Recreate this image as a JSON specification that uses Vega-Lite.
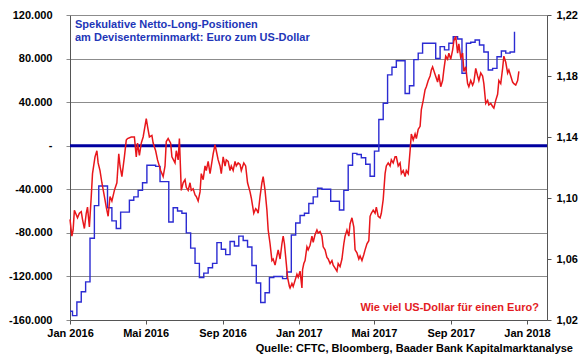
{
  "$schema": "https://vega.github.io/schema/vega-lite/v6.json",
  "width": 477,
  "height": 305,
  "autosize": {"type": "none"},
  "padding": {"left": 70, "top": 15, "right": 33, "bottom": 39},
  "background": "white",
  "config": {
    "view": {"stroke": null},
    "font": "Liberation Sans",
    "axis": {"labelFont": "Liberation Sans", "labelFontWeight": "bold", "labelFontSize": 11, "labelColor": "#000000", "title": null}
  },
  "title": {
    "text": "Quelle: CFTC, Bloomberg, Baader Bank Kapitalmarktanalyse",
    "orient": "bottom",
    "anchor": "end",
    "frame": "group",
    "dx": 26,
    "offset": 5,
    "font": "Liberation Sans",
    "fontSize": 11,
    "fontWeight": "bold",
    "color": "#000000"
  },
  "datasets": {
    "cftc": [
      {"date": "2016-01-01", "pos": -152000},
      {"date": "2016-01-05", "pos": -156000},
      {"date": "2016-01-12", "pos": -143500},
      {"date": "2016-01-19", "pos": -134000},
      {"date": "2016-01-26", "pos": -125000},
      {"date": "2016-02-02", "pos": -85000},
      {"date": "2016-02-09", "pos": -55000},
      {"date": "2016-02-16", "pos": -37000},
      {"date": "2016-02-23", "pos": -37000},
      {"date": "2016-03-01", "pos": -57000},
      {"date": "2016-03-08", "pos": -69000},
      {"date": "2016-03-15", "pos": -76000},
      {"date": "2016-03-22", "pos": -61000},
      {"date": "2016-03-29", "pos": -61000},
      {"date": "2016-04-05", "pos": -50000},
      {"date": "2016-04-12", "pos": -47000},
      {"date": "2016-04-19", "pos": -41000},
      {"date": "2016-04-26", "pos": -34000},
      {"date": "2016-05-03", "pos": -18000},
      {"date": "2016-05-10", "pos": -18000},
      {"date": "2016-05-17", "pos": -19000},
      {"date": "2016-05-24", "pos": -33000},
      {"date": "2016-05-31", "pos": -33000},
      {"date": "2016-06-07", "pos": -70000},
      {"date": "2016-06-14", "pos": -57000},
      {"date": "2016-06-21", "pos": -60000},
      {"date": "2016-06-28", "pos": -62000},
      {"date": "2016-07-05", "pos": -80000},
      {"date": "2016-07-12", "pos": -94000},
      {"date": "2016-07-19", "pos": -108000},
      {"date": "2016-07-26", "pos": -121000},
      {"date": "2016-08-02", "pos": -117000},
      {"date": "2016-08-09", "pos": -112000},
      {"date": "2016-08-16", "pos": -108000},
      {"date": "2016-08-23", "pos": -89000},
      {"date": "2016-08-30", "pos": -95000},
      {"date": "2016-09-06", "pos": -100000},
      {"date": "2016-09-13", "pos": -88000},
      {"date": "2016-09-20", "pos": -92000},
      {"date": "2016-09-27", "pos": -83000},
      {"date": "2016-10-04", "pos": -87000},
      {"date": "2016-10-11", "pos": -93000},
      {"date": "2016-10-18", "pos": -110000},
      {"date": "2016-10-25", "pos": -126000},
      {"date": "2016-11-01", "pos": -144000},
      {"date": "2016-11-08", "pos": -135000},
      {"date": "2016-11-15", "pos": -121000},
      {"date": "2016-11-22", "pos": -120000},
      {"date": "2016-11-29", "pos": -120000},
      {"date": "2016-12-06", "pos": -122000},
      {"date": "2016-12-13", "pos": -116000},
      {"date": "2016-12-20", "pos": -82000},
      {"date": "2016-12-27", "pos": -71000},
      {"date": "2017-01-03", "pos": -64000},
      {"date": "2017-01-10", "pos": -62000},
      {"date": "2017-01-17", "pos": -53000},
      {"date": "2017-01-24", "pos": -47000},
      {"date": "2017-01-31", "pos": -39000},
      {"date": "2017-02-07", "pos": -40000},
      {"date": "2017-02-14", "pos": -40000},
      {"date": "2017-02-21", "pos": -51000},
      {"date": "2017-02-28", "pos": -51000},
      {"date": "2017-03-07", "pos": -59000},
      {"date": "2017-03-14", "pos": -41000},
      {"date": "2017-03-21", "pos": -18000},
      {"date": "2017-03-28", "pos": -7000},
      {"date": "2017-04-04", "pos": -8000},
      {"date": "2017-04-11", "pos": -11000},
      {"date": "2017-04-18", "pos": -17000},
      {"date": "2017-04-25", "pos": -28000},
      {"date": "2017-05-02", "pos": -5000},
      {"date": "2017-05-09", "pos": 24000},
      {"date": "2017-05-16", "pos": 39000},
      {"date": "2017-05-23", "pos": 65000},
      {"date": "2017-05-30", "pos": 72000},
      {"date": "2017-06-06", "pos": 78000},
      {"date": "2017-06-13", "pos": 78000},
      {"date": "2017-06-20", "pos": 48000},
      {"date": "2017-06-27", "pos": 55000},
      {"date": "2017-07-04", "pos": 79000},
      {"date": "2017-07-11", "pos": 85000},
      {"date": "2017-07-18", "pos": 94000},
      {"date": "2017-07-25", "pos": 94000},
      {"date": "2017-08-01", "pos": 94000},
      {"date": "2017-08-08", "pos": 80000},
      {"date": "2017-08-15", "pos": 91000},
      {"date": "2017-08-22", "pos": 88000},
      {"date": "2017-08-29", "pos": 94000},
      {"date": "2017-09-05", "pos": 100000},
      {"date": "2017-09-12", "pos": 98000},
      {"date": "2017-09-19", "pos": 66500},
      {"date": "2017-09-26", "pos": 94000},
      {"date": "2017-10-03", "pos": 95000},
      {"date": "2017-10-10", "pos": 97000},
      {"date": "2017-10-17", "pos": 92500},
      {"date": "2017-10-24", "pos": 86000},
      {"date": "2017-10-31", "pos": 69500},
      {"date": "2017-11-07", "pos": 71000},
      {"date": "2017-11-14", "pos": 81700},
      {"date": "2017-11-21", "pos": 87000},
      {"date": "2017-11-28", "pos": 85000},
      {"date": "2017-12-05", "pos": 86000},
      {"date": "2017-12-12", "pos": 104700}
    ],
    "fx": [
      {"date": "2016-01-01", "usd": 1.086},
      {"date": "2016-01-04", "usd": 1.075},
      {"date": "2016-01-06", "usd": 1.079},
      {"date": "2016-01-08", "usd": 1.092},
      {"date": "2016-01-11", "usd": 1.089},
      {"date": "2016-01-13", "usd": 1.087},
      {"date": "2016-01-16", "usd": 1.090},
      {"date": "2016-01-19", "usd": 1.091},
      {"date": "2016-01-21", "usd": 1.086},
      {"date": "2016-01-24", "usd": 1.080},
      {"date": "2016-01-27", "usd": 1.090},
      {"date": "2016-01-29", "usd": 1.094},
      {"date": "2016-02-01", "usd": 1.081},
      {"date": "2016-02-04", "usd": 1.101},
      {"date": "2016-02-06", "usd": 1.116},
      {"date": "2016-02-10", "usd": 1.127},
      {"date": "2016-02-13", "usd": 1.131},
      {"date": "2016-02-15", "usd": 1.123},
      {"date": "2016-02-18", "usd": 1.118},
      {"date": "2016-02-21", "usd": 1.110},
      {"date": "2016-02-25", "usd": 1.101},
      {"date": "2016-02-28", "usd": 1.094},
      {"date": "2016-03-02", "usd": 1.088},
      {"date": "2016-03-05", "usd": 1.101},
      {"date": "2016-03-08", "usd": 1.098},
      {"date": "2016-03-12", "usd": 1.105},
      {"date": "2016-03-16", "usd": 1.110},
      {"date": "2016-03-19", "usd": 1.129},
      {"date": "2016-03-21", "usd": 1.121},
      {"date": "2016-03-24", "usd": 1.114},
      {"date": "2016-03-28", "usd": 1.127},
      {"date": "2016-03-31", "usd": 1.138},
      {"date": "2016-04-02", "usd": 1.139},
      {"date": "2016-04-08", "usd": 1.140},
      {"date": "2016-04-13", "usd": 1.140},
      {"date": "2016-04-16", "usd": 1.127},
      {"date": "2016-04-18", "usd": 1.136},
      {"date": "2016-04-21", "usd": 1.128},
      {"date": "2016-04-24", "usd": 1.136},
      {"date": "2016-04-27", "usd": 1.140},
      {"date": "2016-05-02", "usd": 1.152},
      {"date": "2016-05-04", "usd": 1.147},
      {"date": "2016-05-07", "usd": 1.140},
      {"date": "2016-05-11", "usd": 1.141},
      {"date": "2016-05-13", "usd": 1.136},
      {"date": "2016-05-17", "usd": 1.131},
      {"date": "2016-05-20", "usd": 1.125},
      {"date": "2016-05-25", "usd": 1.118},
      {"date": "2016-05-29", "usd": 1.114},
      {"date": "2016-06-01", "usd": 1.121},
      {"date": "2016-06-03", "usd": 1.137},
      {"date": "2016-06-06", "usd": 1.139},
      {"date": "2016-06-10", "usd": 1.136},
      {"date": "2016-06-12", "usd": 1.127},
      {"date": "2016-06-17", "usd": 1.123},
      {"date": "2016-06-19", "usd": 1.131},
      {"date": "2016-06-22", "usd": 1.125},
      {"date": "2016-06-24", "usd": 1.139},
      {"date": "2016-06-27", "usd": 1.105},
      {"date": "2016-06-30", "usd": 1.110},
      {"date": "2016-07-03", "usd": 1.112},
      {"date": "2016-07-05", "usd": 1.107},
      {"date": "2016-07-08", "usd": 1.105},
      {"date": "2016-07-11", "usd": 1.110},
      {"date": "2016-07-13", "usd": 1.105},
      {"date": "2016-07-16", "usd": 1.106},
      {"date": "2016-07-19", "usd": 1.102},
      {"date": "2016-07-21", "usd": 1.101},
      {"date": "2016-07-24", "usd": 1.098},
      {"date": "2016-07-27", "usd": 1.104},
      {"date": "2016-07-29", "usd": 1.116},
      {"date": "2016-08-01", "usd": 1.112},
      {"date": "2016-08-04", "usd": 1.121},
      {"date": "2016-08-06", "usd": 1.118},
      {"date": "2016-08-09", "usd": 1.124},
      {"date": "2016-08-12", "usd": 1.116},
      {"date": "2016-08-14", "usd": 1.121},
      {"date": "2016-08-17", "usd": 1.129},
      {"date": "2016-08-20", "usd": 1.135},
      {"date": "2016-08-22", "usd": 1.131},
      {"date": "2016-08-25", "usd": 1.125},
      {"date": "2016-08-28", "usd": 1.121},
      {"date": "2016-08-30", "usd": 1.116},
      {"date": "2016-09-02", "usd": 1.127},
      {"date": "2016-09-05", "usd": 1.121},
      {"date": "2016-09-07", "usd": 1.125},
      {"date": "2016-09-10", "usd": 1.124},
      {"date": "2016-09-13", "usd": 1.118},
      {"date": "2016-09-15", "usd": 1.121},
      {"date": "2016-09-18", "usd": 1.118},
      {"date": "2016-09-21", "usd": 1.124},
      {"date": "2016-09-23", "usd": 1.121},
      {"date": "2016-09-26", "usd": 1.123},
      {"date": "2016-09-29", "usd": 1.122},
      {"date": "2016-10-01", "usd": 1.118},
      {"date": "2016-10-05", "usd": 1.123},
      {"date": "2016-10-08", "usd": 1.121},
      {"date": "2016-10-11", "usd": 1.110},
      {"date": "2016-10-15", "usd": 1.104},
      {"date": "2016-10-17", "usd": 1.100},
      {"date": "2016-10-19", "usd": 1.095},
      {"date": "2016-10-21", "usd": 1.090},
      {"date": "2016-10-24", "usd": 1.093},
      {"date": "2016-10-26", "usd": 1.092},
      {"date": "2016-10-28", "usd": 1.090},
      {"date": "2016-10-31", "usd": 1.101},
      {"date": "2016-11-03", "usd": 1.110},
      {"date": "2016-11-05", "usd": 1.114},
      {"date": "2016-11-08", "usd": 1.105},
      {"date": "2016-11-11", "usd": 1.092},
      {"date": "2016-11-13", "usd": 1.079},
      {"date": "2016-11-16", "usd": 1.070},
      {"date": "2016-11-19", "usd": 1.059},
      {"date": "2016-11-21", "usd": 1.060},
      {"date": "2016-11-24", "usd": 1.056},
      {"date": "2016-11-27", "usd": 1.062},
      {"date": "2016-11-29", "usd": 1.066},
      {"date": "2016-12-02", "usd": 1.060},
      {"date": "2016-12-05", "usd": 1.070},
      {"date": "2016-12-07", "usd": 1.075},
      {"date": "2016-12-09", "usd": 1.070},
      {"date": "2016-12-12", "usd": 1.057},
      {"date": "2016-12-14", "usd": 1.048},
      {"date": "2016-12-17", "usd": 1.042},
      {"date": "2016-12-18", "usd": 1.041},
      {"date": "2016-12-21", "usd": 1.044},
      {"date": "2016-12-23", "usd": 1.042},
      {"date": "2016-12-26", "usd": 1.046},
      {"date": "2016-12-29", "usd": 1.050},
      {"date": "2016-12-31", "usd": 1.048},
      {"date": "2017-01-03", "usd": 1.052},
      {"date": "2017-01-06", "usd": 1.041},
      {"date": "2017-01-07", "usd": 1.053},
      {"date": "2017-01-09", "usd": 1.057},
      {"date": "2017-01-11", "usd": 1.059},
      {"date": "2017-01-14", "usd": 1.068},
      {"date": "2017-01-16", "usd": 1.066},
      {"date": "2017-01-19", "usd": 1.069},
      {"date": "2017-01-22", "usd": 1.075},
      {"date": "2017-01-24", "usd": 1.071},
      {"date": "2017-01-27", "usd": 1.076},
      {"date": "2017-01-30", "usd": 1.079},
      {"date": "2017-02-01", "usd": 1.077},
      {"date": "2017-02-04", "usd": 1.078},
      {"date": "2017-02-07", "usd": 1.075},
      {"date": "2017-02-09", "usd": 1.068},
      {"date": "2017-02-12", "usd": 1.066},
      {"date": "2017-02-15", "usd": 1.061},
      {"date": "2017-02-17", "usd": 1.060},
      {"date": "2017-02-20", "usd": 1.057},
      {"date": "2017-02-23", "usd": 1.059},
      {"date": "2017-02-25", "usd": 1.056},
      {"date": "2017-02-28", "usd": 1.054},
      {"date": "2017-03-03", "usd": 1.052},
      {"date": "2017-03-05", "usd": 1.057},
      {"date": "2017-03-08", "usd": 1.055},
      {"date": "2017-03-11", "usd": 1.060},
      {"date": "2017-03-14", "usd": 1.070},
      {"date": "2017-03-16", "usd": 1.075},
      {"date": "2017-03-19", "usd": 1.079},
      {"date": "2017-03-22", "usd": 1.075},
      {"date": "2017-03-24", "usd": 1.083},
      {"date": "2017-03-27", "usd": 1.087},
      {"date": "2017-03-30", "usd": 1.081},
      {"date": "2017-04-01", "usd": 1.066},
      {"date": "2017-04-04", "usd": 1.064},
      {"date": "2017-04-07", "usd": 1.060},
      {"date": "2017-04-09", "usd": 1.062},
      {"date": "2017-04-12", "usd": 1.059},
      {"date": "2017-04-15", "usd": 1.063},
      {"date": "2017-04-17", "usd": 1.066},
      {"date": "2017-04-20", "usd": 1.070},
      {"date": "2017-04-23", "usd": 1.072},
      {"date": "2017-04-25", "usd": 1.088},
      {"date": "2017-04-27", "usd": 1.090},
      {"date": "2017-04-30", "usd": 1.092},
      {"date": "2017-05-03", "usd": 1.090},
      {"date": "2017-05-05", "usd": 1.094},
      {"date": "2017-05-08", "usd": 1.088},
      {"date": "2017-05-11", "usd": 1.087},
      {"date": "2017-05-13", "usd": 1.090},
      {"date": "2017-05-16", "usd": 1.099},
      {"date": "2017-05-19", "usd": 1.116},
      {"date": "2017-05-21", "usd": 1.121},
      {"date": "2017-05-24", "usd": 1.123},
      {"date": "2017-05-27", "usd": 1.121},
      {"date": "2017-05-29", "usd": 1.125},
      {"date": "2017-06-01", "usd": 1.123},
      {"date": "2017-06-04", "usd": 1.127},
      {"date": "2017-06-06", "usd": 1.127},
      {"date": "2017-06-09", "usd": 1.121},
      {"date": "2017-06-12", "usd": 1.123},
      {"date": "2017-06-14", "usd": 1.116},
      {"date": "2017-06-17", "usd": 1.118},
      {"date": "2017-06-20", "usd": 1.114},
      {"date": "2017-06-22", "usd": 1.118},
      {"date": "2017-06-25", "usd": 1.116},
      {"date": "2017-06-28", "usd": 1.131},
      {"date": "2017-06-30", "usd": 1.142},
      {"date": "2017-07-03", "usd": 1.138},
      {"date": "2017-07-06", "usd": 1.142},
      {"date": "2017-07-08", "usd": 1.139},
      {"date": "2017-07-11", "usd": 1.145},
      {"date": "2017-07-14", "usd": 1.147},
      {"date": "2017-07-16", "usd": 1.158},
      {"date": "2017-07-19", "usd": 1.164},
      {"date": "2017-07-22", "usd": 1.171},
      {"date": "2017-07-24", "usd": 1.173},
      {"date": "2017-07-27", "usd": 1.177},
      {"date": "2017-07-30", "usd": 1.180},
      {"date": "2017-08-01", "usd": 1.184},
      {"date": "2017-08-03", "usd": 1.186},
      {"date": "2017-08-07", "usd": 1.181},
      {"date": "2017-08-11", "usd": 1.176},
      {"date": "2017-08-13", "usd": 1.181},
      {"date": "2017-08-16", "usd": 1.173},
      {"date": "2017-08-19", "usd": 1.177},
      {"date": "2017-08-21", "usd": 1.184},
      {"date": "2017-08-24", "usd": 1.193},
      {"date": "2017-08-27", "usd": 1.191},
      {"date": "2017-08-29", "usd": 1.195},
      {"date": "2017-09-01", "usd": 1.191},
      {"date": "2017-09-04", "usd": 1.197},
      {"date": "2017-09-06", "usd": 1.203},
      {"date": "2017-09-09", "usd": 1.206},
      {"date": "2017-09-12", "usd": 1.195},
      {"date": "2017-09-14", "usd": 1.201},
      {"date": "2017-09-17", "usd": 1.192},
      {"date": "2017-09-20", "usd": 1.195},
      {"date": "2017-09-22", "usd": 1.183},
      {"date": "2017-09-25", "usd": 1.186},
      {"date": "2017-09-28", "usd": 1.175},
      {"date": "2017-09-30", "usd": 1.173},
      {"date": "2017-10-03", "usd": 1.177},
      {"date": "2017-10-06", "usd": 1.174},
      {"date": "2017-10-08", "usd": 1.176},
      {"date": "2017-10-11", "usd": 1.185},
      {"date": "2017-10-14", "usd": 1.180},
      {"date": "2017-10-16", "usd": 1.177},
      {"date": "2017-10-19", "usd": 1.182},
      {"date": "2017-10-22", "usd": 1.180},
      {"date": "2017-10-24", "usd": 1.175},
      {"date": "2017-10-27", "usd": 1.162},
      {"date": "2017-10-30", "usd": 1.164},
      {"date": "2017-11-01", "usd": 1.161},
      {"date": "2017-11-04", "usd": 1.162},
      {"date": "2017-11-07", "usd": 1.160},
      {"date": "2017-11-09", "usd": 1.159},
      {"date": "2017-11-12", "usd": 1.164},
      {"date": "2017-11-15", "usd": 1.168},
      {"date": "2017-11-17", "usd": 1.177},
      {"date": "2017-11-20", "usd": 1.175},
      {"date": "2017-11-23", "usd": 1.185},
      {"date": "2017-11-25", "usd": 1.193},
      {"date": "2017-11-28", "usd": 1.189},
      {"date": "2017-12-01", "usd": 1.182},
      {"date": "2017-12-03", "usd": 1.184},
      {"date": "2017-12-06", "usd": 1.180},
      {"date": "2017-12-09", "usd": 1.176},
      {"date": "2017-12-11", "usd": 1.175},
      {"date": "2017-12-14", "usd": 1.174},
      {"date": "2017-12-17", "usd": 1.177},
      {"date": "2017-12-19", "usd": 1.183}
    ]
  },
  "layer": [
    {
      "layer": [
        {
          "data": {"values": [{}]},
          "mark": {"type": "rule", "color": "#0000a0", "strokeWidth": 3},
          "encoding": {
            "y": {
              "datum": 0, "type": "quantitative",
              "scale": {"domain": [-160000, 120000], "nice": false, "zero": false},
              "axis": {
                "orient": "left",
                "values": [-160000, -120000, -80000, -40000, 0, 40000, 80000, 120000],
                "labelExpr": "datum.value == 0 ? '-\u00a0\u00a0' : replace(replace(format(datum.value, ','), ',', '.'), '\u2212', '-')",
                "grid": true, "gridColor": "#8c8c8c", "gridWidth": 1,
                "tickSize": 4, "tickColor": "#8c8c8c", "domainColor": "#555555", "labelPadding": 14
              }
            }
          }
        },
        {
          "data": {"name": "cftc"},
          "mark": {"type": "line", "interpolate": "step-after", "color": "#2b2bd2", "strokeWidth": 1.4},
          "encoding": {
            "x": {
              "field": "date", "type": "temporal",
              "scale": {"type": "utc", "domain": [{"year": 2016, "month": 1, "date": 1, "utc": true}, {"year": 2018, "month": 2, "date": 2, "utc": true}]},
              "axis": {
                "values": [
                  {"year": 2016, "month": 1, "date": 1, "utc": true},
                  {"year": 2016, "month": 5, "date": 1, "utc": true},
                  {"year": 2016, "month": 9, "date": 1, "utc": true},
                  {"year": 2017, "month": 1, "date": 1, "utc": true},
                  {"year": 2017, "month": 5, "date": 1, "utc": true},
                  {"year": 2017, "month": 9, "date": 1, "utc": true},
                  {"year": 2018, "month": 1, "date": 1, "utc": true}
                ],
                "labelExpr": "['Jan','Feb','Mär','Apr','Mai','Jun','Jul','Aug','Sep','Okt','Nov','Dez'][utcmonth(datum.value)] + ' ' + utcyear(datum.value)",
                "labelFlush": false, "labelOverlap": false, "grid": false,
                "tickSize": 4, "tickColor": "#555555", "domainColor": "#555555", "labelPadding": 3
              }
            },
            "y": {
              "field": "pos", "type": "quantitative",
              "scale": {"domain": [-160000, 120000], "nice": false, "zero": false},
              "axis": {
                "orient": "left",
                "values": [-160000, -120000, -80000, -40000, 0, 40000, 80000, 120000],
                "labelExpr": "datum.value == 0 ? '-\u00a0\u00a0' : replace(replace(format(datum.value, ','), ',', '.'), '\u2212', '-')",
                "grid": true, "gridColor": "#8c8c8c", "gridWidth": 1,
                "tickSize": 4, "tickColor": "#8c8c8c", "domainColor": "#555555", "labelPadding": 14
              }
            }
          }
        },
        {
          "data": {"values": [{}]},
          "mark": {"type": "text", "align": "left", "baseline": "top", "font": "Liberation Sans", "fontSize": 11, "fontWeight": "bold", "color": "#2236b8", "lineHeight": 13},
          "encoding": {
            "x": {
              "datum": {"year": 2016, "month": 1, "date": 9, "utc": true}, "type": "temporal",
              "scale": {"type": "utc", "domain": [{"year": 2016, "month": 1, "date": 1, "utc": true}, {"year": 2018, "month": 2, "date": 2, "utc": true}]},
              "axis": {
                "values": [
                  {"year": 2016, "month": 1, "date": 1, "utc": true},
                  {"year": 2016, "month": 5, "date": 1, "utc": true},
                  {"year": 2016, "month": 9, "date": 1, "utc": true},
                  {"year": 2017, "month": 1, "date": 1, "utc": true},
                  {"year": 2017, "month": 5, "date": 1, "utc": true},
                  {"year": 2017, "month": 9, "date": 1, "utc": true},
                  {"year": 2018, "month": 1, "date": 1, "utc": true}
                ],
                "labelExpr": "['Jan','Feb','Mär','Apr','Mai','Jun','Jul','Aug','Sep','Okt','Nov','Dez'][utcmonth(datum.value)] + ' ' + utcyear(datum.value)",
                "labelFlush": false, "labelOverlap": false, "grid": false,
                "tickSize": 4, "tickColor": "#555555", "domainColor": "#555555", "labelPadding": 3
              }
            },
            "y": {
              "datum": 116500, "type": "quantitative",
              "scale": {"domain": [-160000, 120000], "nice": false, "zero": false},
              "axis": {
                "orient": "left",
                "values": [-160000, -120000, -80000, -40000, 0, 40000, 80000, 120000],
                "labelExpr": "datum.value == 0 ? '-\u00a0\u00a0' : replace(replace(format(datum.value, ','), ',', '.'), '\u2212', '-')",
                "grid": true, "gridColor": "#8c8c8c", "gridWidth": 1,
                "tickSize": 4, "tickColor": "#8c8c8c", "domainColor": "#555555", "labelPadding": 14
              }
            },
            "text": {"value": ["Spekulative Netto-Long-Positionen", "am Devisenterminmarkt: Euro zum US-Dollar"]}
          }
        },
        {
          "data": {"values": [{}]},
          "mark": {"type": "text", "align": "right", "baseline": "middle", "font": "Liberation Sans", "fontSize": 11, "fontWeight": "bold", "color": "#e31b23"},
          "encoding": {
            "x": {
              "datum": {"year": 2018, "month": 1, "date": 20, "utc": true}, "type": "temporal",
              "scale": {"type": "utc", "domain": [{"year": 2016, "month": 1, "date": 1, "utc": true}, {"year": 2018, "month": 2, "date": 2, "utc": true}]},
              "axis": {
                "values": [
                  {"year": 2016, "month": 1, "date": 1, "utc": true},
                  {"year": 2016, "month": 5, "date": 1, "utc": true},
                  {"year": 2016, "month": 9, "date": 1, "utc": true},
                  {"year": 2017, "month": 1, "date": 1, "utc": true},
                  {"year": 2017, "month": 5, "date": 1, "utc": true},
                  {"year": 2017, "month": 9, "date": 1, "utc": true},
                  {"year": 2018, "month": 1, "date": 1, "utc": true}
                ],
                "labelExpr": "['Jan','Feb','Mär','Apr','Mai','Jun','Jul','Aug','Sep','Okt','Nov','Dez'][utcmonth(datum.value)] + ' ' + utcyear(datum.value)",
                "labelFlush": false, "labelOverlap": false, "grid": false,
                "tickSize": 4, "tickColor": "#555555", "domainColor": "#555555", "labelPadding": 3
              }
            },
            "y": {
              "datum": -149000, "type": "quantitative",
              "scale": {"domain": [-160000, 120000], "nice": false, "zero": false},
              "axis": {
                "orient": "left",
                "values": [-160000, -120000, -80000, -40000, 0, 40000, 80000, 120000],
                "labelExpr": "datum.value == 0 ? '-\u00a0\u00a0' : replace(replace(format(datum.value, ','), ',', '.'), '\u2212', '-')",
                "grid": true, "gridColor": "#8c8c8c", "gridWidth": 1,
                "tickSize": 4, "tickColor": "#8c8c8c", "domainColor": "#555555", "labelPadding": 14
              }
            },
            "text": {"value": "Wie viel US-Dollar für einen Euro?"}
          }
        }
      ]
    },
    {
      "data": {"name": "fx"},
      "mark": {"type": "line", "color": "#e8161b", "strokeWidth": 1.5},
      "encoding": {
        "x": {
          "field": "date", "type": "temporal",
          "scale": {"type": "utc", "domain": [{"year": 2016, "month": 1, "date": 1, "utc": true}, {"year": 2018, "month": 2, "date": 2, "utc": true}]},
          "axis": {
            "values": [
              {"year": 2016, "month": 1, "date": 1, "utc": true},
              {"year": 2016, "month": 5, "date": 1, "utc": true},
              {"year": 2016, "month": 9, "date": 1, "utc": true},
              {"year": 2017, "month": 1, "date": 1, "utc": true},
              {"year": 2017, "month": 5, "date": 1, "utc": true},
              {"year": 2017, "month": 9, "date": 1, "utc": true},
              {"year": 2018, "month": 1, "date": 1, "utc": true}
            ],
            "labelExpr": "['Jan','Feb','Mär','Apr','Mai','Jun','Jul','Aug','Sep','Okt','Nov','Dez'][utcmonth(datum.value)] + ' ' + utcyear(datum.value)",
            "labelFlush": false, "labelOverlap": false, "grid": false,
            "tickSize": 4, "tickColor": "#555555", "domainColor": "#555555", "labelPadding": 3
          }
        },
        "y": {
          "field": "usd", "type": "quantitative",
          "scale": {"domain": [1.02, 1.22], "nice": false, "zero": false},
          "axis": {
            "orient": "right",
            "values": [1.02, 1.06, 1.1, 1.14, 1.18, 1.22],
            "labelExpr": "replace(format(datum.value, '.2f'), '.', ',')",
            "grid": false,
            "tickSize": 4,
            "tickColor": "#555555",
            "domainColor": "#555555",
            "labelPadding": 5
          }
        }
      }
    }
  ],
  "resolve": {"scale": {"y": "independent"}}
}
